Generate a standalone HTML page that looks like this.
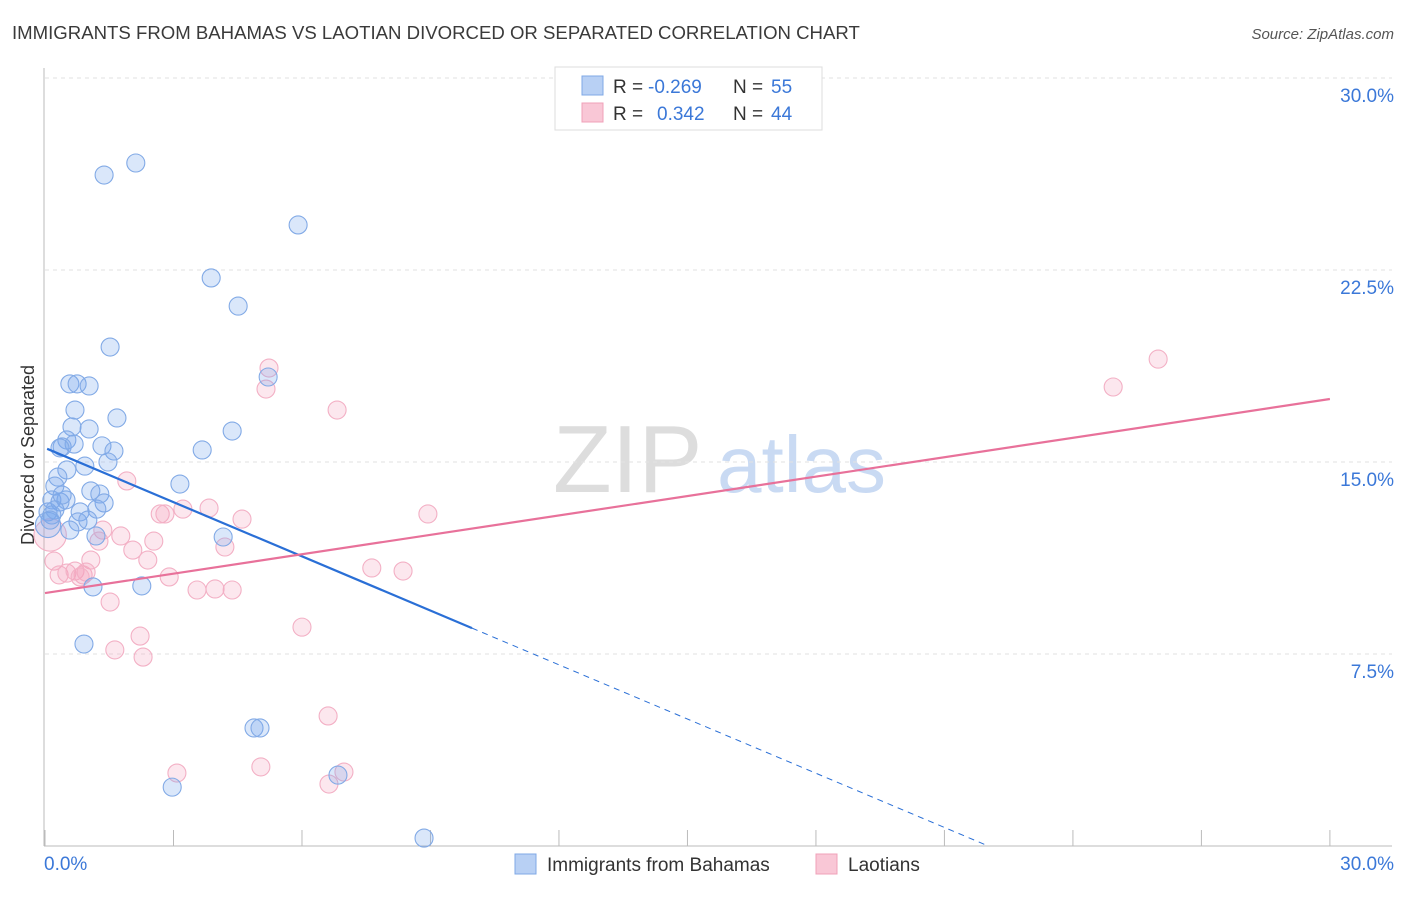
<!DOCTYPE html>
<html><head><meta charset="utf-8"><style>
body{margin:0;background:#fff;font-family:"Liberation Sans",sans-serif;}
svg text{font-family:"Liberation Sans",sans-serif;}
</style></head><body>
<svg id="chart" width="1406" height="892">
<text x="12" y="39" font-size="18.6" fill="#3a3a3a">IMMIGRANTS FROM BAHAMAS VS LAOTIAN DIVORCED OR SEPARATED CORRELATION CHART</text>
<text x="1394" y="39" font-size="15" fill="#555" font-style="italic" text-anchor="end">Source: ZipAtlas.com</text>
<text x="0" y="0" font-size="18" fill="#333" transform="translate(34,455) rotate(-90)" text-anchor="middle">Divorced or Separated</text>
<g>
<text x="553" y="492" font-size="96" fill="#ddd" font-family="Liberation Serif">ZIP</text>
<text x="717" y="492" font-size="80" fill="#c9daf3">atlas</text>
</g>
<g id="grid"></g><g id="axes"></g><g id="pts"></g><g id="lines"></g>
<g>
<rect x="555" y="67" width="267" height="63" fill="#fff" stroke="#ddd"/>
<rect x="582" y="76" width="21" height="19" fill="#b8d0f4" stroke="#7fa8e6"/>
<text x="613" y="93" font-size="19" fill="#333">R = </text><text x="648" y="93" font-size="19" fill="#3b78d8">-0.269</text>
<text x="733" y="93" font-size="19" fill="#333">N = </text><text x="771" y="93" font-size="19" fill="#3b78d8">55</text>
<rect x="582" y="103" width="21" height="19" fill="#f9c7d6" stroke="#f0a0b8"/>
<text x="613" y="120" font-size="19" fill="#333">R = </text><text x="657" y="120" font-size="19" fill="#3b78d8">0.342</text>
<text x="733" y="120" font-size="19" fill="#333">N = </text><text x="771" y="120" font-size="19" fill="#3b78d8">44</text>
</g>
<g>
<rect x="515" y="854" width="21" height="20" fill="#b8d0f4" stroke="#7fa8e6"/>
<text x="547" y="871" font-size="19" fill="#333">Immigrants from Bahamas</text>
<rect x="816" y="854" width="21" height="20" fill="#f9c7d6" stroke="#f0a0b8"/>
<text x="848" y="871" font-size="19" fill="#333">Laotians</text>
</g>
</svg>
<script>
const blueX=[2.12,1.38,5.91,3.88,4.51,1.52,0.58,0.75,1.03,5.21,1.68,0.70,0.63,1.03,4.37,0.51,0.40,0.68,1.33,1.61,3.67,1.47,0.93,0.51,0.30,0.23,3.15,1.07,1.28,0.49,0.16,0.35,1.38,1.21,0.82,0.07,0.16,0.77,1.19,4.16,0.07,1.12,2.26,0.91,4.88,5.02,2.97,6.84,8.85,0.35,0.23,0.40,0.12,0.58,1.0];
const blueY=[26.68,26.21,24.26,22.19,21.09,19.49,18.05,18.05,17.97,18.32,16.72,17.03,16.37,16.29,16.21,15.86,15.59,15.70,15.63,15.43,15.47,15.0,14.84,14.69,14.41,14.06,14.14,13.87,13.75,13.52,13.52,13.44,13.40,13.16,13.05,13.05,12.93,12.66,12.11,12.07,12.54,10.12,10.16,7.89,4.61,4.61,2.30,2.77,0.31,15.55,13.13,13.71,12.73,12.34,12.73];
const blueSize=[1,1,1,1,1,1,1,1,1,1,1,1,1,1,1,1,1,1,1,1,1,1,1,1,1,1,1,1,1,1,1,1,1,1,1,1,1,1,1,1,1.4,1,1,1,1,1,1,1,1,1,1,1,1,1,1];
const pinkX=[25.99,24.94,5.23,5.16,6.82,1.91,3.83,3.22,2.69,2.80,8.94,4.60,1.35,1.77,1.26,2.54,4.20,2.05,0.12,0.21,1.07,2.40,7.63,8.36,0.33,0.51,0.70,0.89,0.96,2.90,3.55,3.97,4.37,1.52,6.0,2.22,1.63,2.29,6.61,3.08,5.04,6.98,6.63,0.82];
const pinkY=[19.02,17.93,18.67,17.85,17.03,14.26,13.20,13.16,12.97,12.97,12.97,12.77,12.34,12.11,11.91,11.91,11.68,11.56,12.15,11.13,11.17,11.17,10.86,10.74,10.59,10.66,10.74,10.59,10.70,10.51,10.0,10.04,10.0,9.53,8.55,8.20,7.66,7.38,5.08,2.85,3.09,2.89,2.42,10.51];
const pinkSize=[1,1,1,1,1,1,1,1,1,1,1,1,1,1,1,1,1,1,1.8,1,1,1,1,1,1,1,1,1,1,1,1,1,1,1,1,1,1,1,1,1,1,1,1,1];
const yTicks=[7.5,15,22.5,30];
const yTickLabels=["7.5%","15.0%","22.5%","30.0%"];
const blueTrend=[15.55,-0.706];
const pinkTrend=[9.88,0.2527];
const NS="http://www.w3.org/2000/svg";
const X=v=>45+v*42.83, Y=v=>846-v*25.6;
function mk(t,a,p){const e=document.createElementNS(NS,t);for(const k in a)e.setAttribute(k,a[k]);p.appendChild(e);return e;}
const grid=document.getElementById('grid'),axes=document.getElementById('axes'),pts=document.getElementById('pts'),lines=document.getElementById('lines');
yTicks.forEach((t,i)=>{
 const l=mk('line',{x1:45,x2:1392,y1:Y(t),y2:Y(t),stroke:'#e2e2e2','stroke-dasharray':'4,4'},grid);
 
 
 const tx=mk('text',{x:1394,y:Y(t)+24,'font-size':19,fill:'#3b78d8','text-anchor':'end'},axes);
 tx.textContent=yTickLabels[i];
 
 
});
const ax=mk('line',{x1:44,x2:44,y1:68,y2:846,stroke:'#bbb'},axes);


const bx=mk('line',{x1:44,x2:1392,y1:846,y2:846,stroke:'#bbb'},axes);


for(let i=0;i<=10;i++){const tk=mk('line',{x1:X(i*3),x2:X(i*3),y1:830,y2:846,stroke:'#bbb'},axes);
 
 }
const x0=mk('text',{x:44,y:870,'font-size':19,fill:'#3b78d8'},axes);x0.textContent='0.0%';


const x1=mk('text',{x:1394,y:870,'font-size':19,fill:'#3b78d8','text-anchor':'end'},axes);x1.textContent='30.0%';


pinkX.forEach((v,i)=>{const c=mk('circle',{cx:X(v),cy:Y(pinkY[i]),r:9*pinkSize[i],fill:'rgba(244,160,188,0.25)',stroke:'#f3b0c5','stroke-width':1.1},pts);
 
 });
blueX.forEach((v,i)=>{const c=mk('circle',{cx:X(v),cy:Y(blueY[i]),r:9*blueSize[i],fill:'rgba(120,168,238,0.27)',stroke:'#82aae6','stroke-width':1.1},pts);
 
 });
const bl=mk('line',{x1:X(0.05),y1:Y(blueTrend[0]+blueTrend[1]*0.05),x2:X(9.97),y2:Y(blueTrend[0]+blueTrend[1]*9.97),stroke:'#2a6fd6','stroke-width':2.2},lines);


const bd=mk('line',{x1:X(9.97),y1:Y(blueTrend[0]+blueTrend[1]*9.97),x2:X(22.02),y2:Y(blueTrend[0]+blueTrend[1]*22.02),stroke:'#2a6fd6','stroke-width':1,'stroke-dasharray':'6,5'},lines);


const pl=mk('line',{x1:X(0),y1:Y(pinkTrend[0]),x2:X(30),y2:Y(pinkTrend[0]+pinkTrend[1]*30),stroke:'#e8719a','stroke-width':2.2},lines);


</script>
</body></html>
